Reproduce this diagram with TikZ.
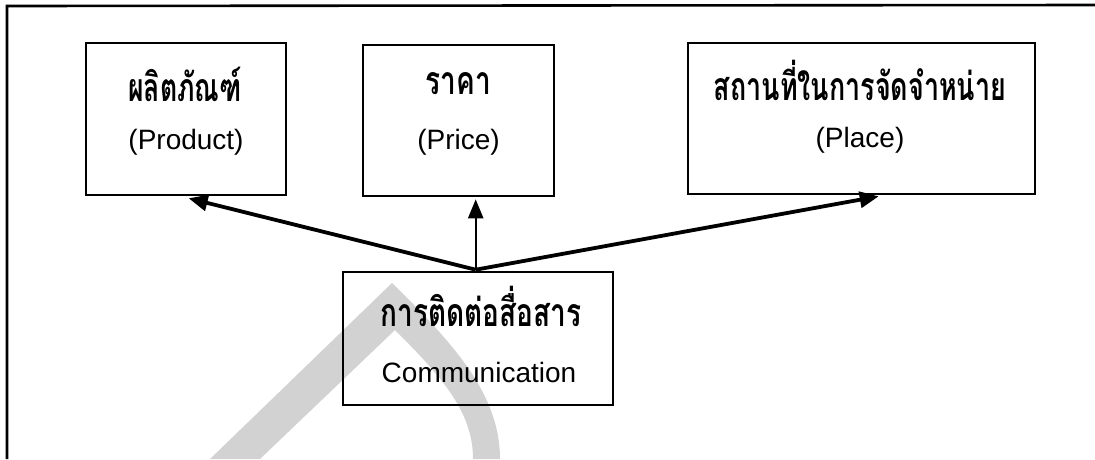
\documentclass[tikz,border=0pt]{standalone}
\usepackage{fontspec}
\setmainfont{Liberation Sans}
\newfontfamily\thaifont[Script=Thai]{Loma}
\usetikzlibrary{arrows.meta,calc}
\newcommand{\thstretch}[2][1]{\scalebox{#1}[1.4]{#2}}
\begin{document}
\begin{tikzpicture}[x=1pt,y=-1pt,
  box/.style={draw=black,line width=2.6pt,minimum width=#1,inner sep=0pt},
  thtext/.style={font=\thaifont\bfseries\fontsize{28}{32}\selectfont,inner sep=0pt},
  entext/.style={font=\fontsize{28}{32}\selectfont,inner sep=0pt},
  arr/.style={line width=3.8pt,-{Triangle[length=19pt,width=16pt]}},
  varr/.style={line width=2.4pt,-{Triangle[length=19pt,width=15pt]}}]
\useasboundingbox (0,0) rectangle (1095,459);
% watermark
\fill[gray!35] (210,459) -- (392,283) .. controls (455,345) and (500,395) .. (500,459)
  -- (473,459) .. controls (473,412) and (442,377) .. (395,330) -- (260,459) -- cycle;
% frame
\draw[line width=2.6pt] (7,459) -- (7,6) -- (1095,5);
% boxes
\node[box=200pt,minimum height=152pt] (prod) at (186,119) {};
\node[box=191pt,minimum height=151pt] (price) at (458.5,120.5) {};
\node[box=347pt,minimum height=151pt] (place) at (861.5,118.5) {};
\node[box=270pt,minimum height=133pt] (comm) at (478,338.5) {};
% texts
\node[thtext] (prodth) at (185,84) {\thstretch[0.95]{ผลิตภัณฑ์}};
\node[entext] (proden) at (186,142) {(Product)};
\node[thtext] (priceth) at (458.5,84) {\thstretch{ราคา}};
\node[entext] (priceen) at (458.5,142) {(Price)};
\node[thtext] (placeth) at (860,80) {\thstretch[0.96]{สถานที่ในการจัดจำหน่าย}};
\node[entext] (placeen) at (860,140) {(Place)};
\node[thtext] (commth) at (481,306) {\thstretch{การติดต่อสื่อสาร}};
\node[entext] (commen) at (479,372) {Communication};
% arrows
\coordinate (o) at ($(comm.north west)+(134,-1)$);
\coordinate (tprod) at ($(prod.south west)+(104,2)$);
\coordinate (tprice) at ($(price.south west)+(114,2)$);
\coordinate (tplace) at ($(place.south west)+(192,1)$);
\draw[arr] (o) -- (tprod);
\draw[arr] (o) -- (tplace);
\draw[varr] (o) -- (tprice);
\end{tikzpicture}
\end{document}
